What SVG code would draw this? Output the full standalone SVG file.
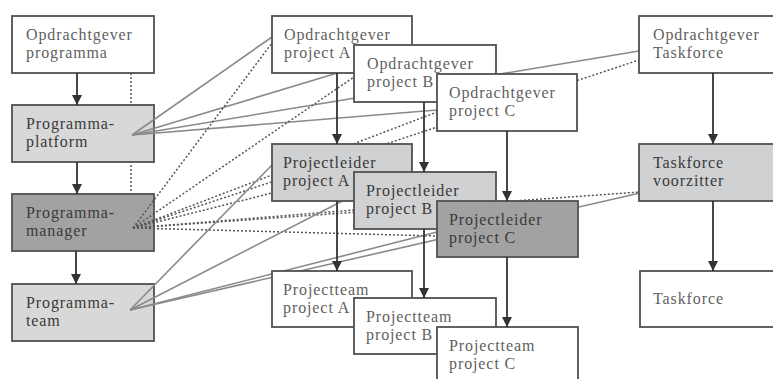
<svg xmlns="http://www.w3.org/2000/svg" width="773" height="379" viewBox="0 0 773 379">
<defs>
<marker id="ah" viewBox="0 0 10 10" refX="10" refY="5" markerWidth="10" markerHeight="10" markerUnits="userSpaceOnUse" orient="auto">
<path d="M0,0 L10,5 L0,10 Z" fill="#333"/>
</marker>
<style>
.box{stroke:#505050;stroke-width:1.8}
.w{fill:#ffffff}
.lg{fill:#d8d8d8}
.tx{fill:#d0d1d2}
.dg{fill:#a2a2a2}
text{font-family:"Liberation Serif",serif;font-size:16px;letter-spacing:0.9px;fill:#5f5f5f}
.dk text{fill:#3a3a3a}
.sol{stroke:#8a8a8a;stroke-width:1.6;fill:none}
.dot{stroke:#555;stroke-width:1.5;stroke-dasharray:2 2;fill:none}
.arr{stroke:#333;stroke-width:1.8;fill:none;marker-end:url(#ah)}
</style>
</defs>
<rect width="773" height="379" fill="#ffffff"/>

<g id="connectors-back">
<line class="dot" x1="131" y1="73" x2="131" y2="228"/>
</g>

<g id="opdrachtgever-programma">
<rect class="box w" x="12" y="16" width="142" height="57"/>
<text x="26" y="40">Opdrachtgever</text>
<text x="26" y="58">programma</text>
</g>
<g id="programma-platform" class="dk">
<rect class="box lg" x="12" y="105" width="142" height="57"/>
<text x="26" y="129">Programma-</text>
<text x="26" y="147">platform</text>
</g>
<g id="programma-manager" class="dk">
<rect class="box dg" x="12" y="194" width="142" height="57"/>
<text x="26" y="218">Programma-</text>
<text x="26" y="236">manager</text>
</g>
<g id="programma-team" class="dk">
<rect class="box lg" x="12" y="284" width="142" height="57"/>
<text x="26" y="308">Programma-</text>
<text x="26" y="326">team</text>
</g>

<g id="connectors">
<line class="sol" x1="132" y1="135" x2="272" y2="37"/>
<line class="sol" x1="132" y1="135" x2="354" y2="68"/>
<line class="sol" x1="132" y1="135" x2="437" y2="110"/>
<line class="sol" x1="132" y1="135" x2="639" y2="51"/>
<line class="dot" x1="133" y1="228" x2="272" y2="43"/>
<line class="dot" x1="133" y1="228" x2="354" y2="77"/>
<line class="dot" x1="133" y1="228" x2="437" y2="112"/>
<line class="dot" x1="133" y1="228" x2="639" y2="60"/>
<line class="dot" x1="133" y1="228" x2="272" y2="193"/>
<line class="dot" x1="133" y1="228" x2="354" y2="210"/>
<line class="dot" x1="133" y1="228" x2="437" y2="236"/>
<line class="dot" x1="133" y1="228" x2="640" y2="192"/>
<line class="sol" x1="130" y1="310" x2="272" y2="165"/>
<line class="sol" x1="130" y1="310" x2="354" y2="195"/>
<line class="sol" x1="130" y1="310" x2="437" y2="232"/>
<line class="sol" x1="130" y1="310" x2="640" y2="193"/>
</g>

<g id="opdrachtgever-project-a">
<rect class="box w" x="272" y="16" width="140" height="57"/>
<text x="284" y="40">Opdrachtgever</text>
<text x="284" y="58">project A</text>
</g>
<g id="opdrachtgever-project-b">
<rect class="box w" x="354" y="45" width="142" height="57"/>
<text x="367" y="69">Opdrachtgever</text>
<text x="367" y="87">project B</text>
</g>
<g id="opdrachtgever-project-c">
<rect class="box w" x="437" y="74" width="140" height="57"/>
<text x="449" y="98">Opdrachtgever</text>
<text x="449" y="116">project C</text>
</g>
<g id="projectleider-project-a" class="dk">
<rect class="box tx" x="272" y="144" width="140" height="57"/>
<text x="283" y="168">Projectleider</text>
<text x="283" y="186">project A</text>
</g>
<g id="projectleider-project-b" class="dk">
<rect class="box tx" x="354" y="172" width="142" height="57"/>
<text x="366" y="196">Projectleider</text>
<text x="366" y="214">project B</text>
</g>
<g id="projectleider-project-c" class="dk">
<rect class="box dg" x="437" y="201" width="141" height="56"/>
<text x="449" y="225">Projectleider</text>
<text x="449" y="243">project C</text>
</g>
<g id="projectteam-project-a">
<rect class="box w" x="272" y="271" width="140" height="56"/>
<text x="283" y="295">Projectteam</text>
<text x="283" y="313">project A</text>
</g>
<g id="projectteam-project-b">
<rect class="box w" x="354" y="298" width="142" height="56"/>
<text x="366" y="322">Projectteam</text>
<text x="366" y="340">project B</text>
</g>
<g id="projectteam-project-c">
<rect class="box w" x="437" y="327" width="141" height="57"/>
<text x="449" y="351">Projectteam</text>
<text x="449" y="369">project C</text>
</g>
<g id="opdrachtgever-taskforce">
<rect class="box w" x="639" y="16" width="142" height="57"/>
<text x="653" y="40">Opdrachtgever</text>
<text x="653" y="58">Taskforce</text>
</g>
<g id="taskforce-voorzitter" class="dk">
<rect class="box tx" x="639" y="144" width="142" height="57"/>
<text x="653" y="168">Taskforce</text>
<text x="653" y="186">voorzitter</text>
</g>
<g id="taskforce">
<rect class="box w" x="640" y="271" width="142" height="56"/>
<text x="653" y="304">Taskforce</text>
</g>

<g id="arrows">
<line class="arr" x1="77" y1="73" x2="77" y2="105"/>
<line class="arr" x1="77" y1="162" x2="77" y2="194"/>
<line class="arr" x1="76" y1="251" x2="76" y2="284"/>
<line class="arr" x1="337" y1="73" x2="337" y2="144"/>
<line class="arr" x1="424" y1="102" x2="424" y2="172"/>
<line class="arr" x1="507" y1="131" x2="507" y2="201"/>
<line class="arr" x1="337" y1="201" x2="337" y2="271"/>
<line class="arr" x1="424" y1="229" x2="424" y2="298"/>
<line class="arr" x1="507" y1="257" x2="507" y2="327"/>
<line class="arr" x1="713" y1="73" x2="713" y2="144"/>
<line class="arr" x1="713" y1="201" x2="713" y2="271"/>
</g>
</svg>
